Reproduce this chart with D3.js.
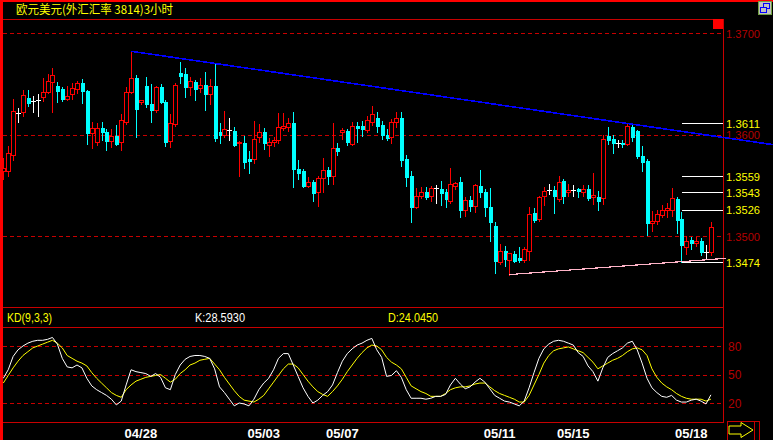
<!DOCTYPE html>
<html><head><meta charset="utf-8">
<script src="https://cdn.jsdelivr.net/npm/d3@7/dist/d3.min.js"></script>
<style>
html,body{margin:0;padding:0;background:#000;overflow:hidden}
svg{display:block}
</style></head><body>
<svg id="c" width="773" height="440"></svg>
<script>
const title = "欧元美元(外汇汇率 3814)3小时";
const opens = [
1.3564,1.3564,1.3580,1.3621,1.3622,1.3636,1.3633,1.3634,1.3637,1.3642,
1.3652,1.3648,1.3645,1.3635,1.3640,1.3645,1.3651,1.3643,1.3601,1.3593,
1.3606,1.3602,1.3594,1.3599,1.3593,1.3612,1.3642,1.3656,1.3632,1.3648,
1.3630,1.3624,1.3647,1.3632,1.3594,1.3610,1.3661,1.3660,1.3647,1.3652,
1.3646,1.3649,1.3640,1.3648,1.3602,1.3600,1.3604,1.3603,1.3592,1.3592,
1.3576,1.3576,1.3598,1.3602,1.3590,1.3593,1.3595,1.3606,1.3607,1.3611,
1.3566,1.3564,1.3549,1.3553,1.3543,1.3557,1.3565,1.3559,1.3587,1.3602,
1.3603,1.3591,1.3608,1.3608,1.3604,1.3612,1.3616,1.3609,1.3600,1.3598,
1.3612,1.3616,1.3576,1.3559,1.3529,1.3539,1.3543,1.3539,1.3547,1.3546,
1.3543,1.3534,1.3549,1.3553,1.3526,1.3535,1.3530,1.3549,1.3543,1.3529,
1.3510,1.3474,1.3485,1.3476,1.3482,1.3478,1.3476,1.3485,1.3523,1.3517,
1.3539,1.3545,1.3545,1.3536,1.3554,1.3543,1.3545,1.3546,1.3543,1.3546,
1.3538,1.3538,1.3537,1.3599,1.3596,1.3592,1.3592,1.3591,1.3607,1.3603,
1.3579,1.3574,1.3513,1.3515,1.3521,1.3526,1.3526,1.3536,1.3517,1.3489,
1.3496,1.3493,1.3495,1.3484,1.3484];
const highs = [
1.3577,1.3589,1.3635,1.3626,1.3644,1.3644,1.3638,1.3640,1.3656,1.3660,
1.3666,1.3652,1.3647,1.3648,1.3651,1.3653,1.3655,1.3644,1.3612,1.3611,
1.3612,1.3605,1.3605,1.3609,1.3620,1.3647,1.3682,1.3659,1.3634,1.3657,
1.3650,1.3648,1.3650,1.3634,1.3620,1.3651,1.3671,1.3666,1.3657,1.3654,
1.3656,1.3662,1.3655,1.3670,1.3611,1.3623,1.3616,1.3607,1.3594,1.3599,
1.3584,1.3613,1.3610,1.3606,1.3597,1.3598,1.3621,1.3621,1.3616,1.3622,
1.3575,1.3566,1.3558,1.3555,1.3559,1.3577,1.3568,1.3611,1.3592,1.3606,
1.3605,1.3612,1.3612,1.3613,1.3618,1.3628,1.3622,1.3613,1.3605,1.3615,
1.3622,1.3622,1.3580,1.3564,1.3547,1.3548,1.3548,1.3549,1.3550,1.3554,
1.3546,1.3567,1.3553,1.3558,1.3538,1.3539,1.3551,1.3565,1.3546,1.3547,
1.3514,1.3492,1.3490,1.3483,1.3485,1.3489,1.3489,1.3529,1.3528,1.3539,
1.3548,1.3551,1.3549,1.3559,1.3556,1.3551,1.3550,1.3547,1.3550,1.3550,
1.3562,1.3544,1.3600,1.3607,1.3600,1.3595,1.3595,1.3611,1.3610,1.3604,
1.3589,1.3576,1.3525,1.3526,1.3531,1.3533,1.3547,1.3538,1.3524,1.3500,
1.3499,1.3499,1.3498,1.3491,1.3514];
const lows = [
1.3556,1.3559,1.3575,1.3612,1.3618,1.3628,1.3622,1.3618,1.3633,1.3641,
1.3622,1.3632,1.3633,1.3634,1.3635,1.3641,1.3631,1.3591,1.3587,1.3590,
1.3595,1.3585,1.3588,1.3590,1.3585,1.3610,1.3641,1.3598,1.3630,1.3627,
1.3612,1.3622,1.3631,1.3589,1.3588,1.3608,1.3651,1.3637,1.3639,1.3634,
1.3642,1.3624,1.3630,1.3594,1.3592,1.3598,1.3595,1.3589,1.3559,1.3567,
1.3562,1.3572,1.3593,1.3586,1.3579,1.3589,1.3592,1.3604,1.3603,1.3548,
1.3556,1.3548,1.3548,1.3534,1.3530,1.3543,1.3551,1.3551,1.3580,1.3596,
1.3590,1.3590,1.3593,1.3599,1.3602,1.3609,1.3602,1.3596,1.3595,1.3592,
1.3607,1.3569,1.3549,1.3514,1.3528,1.3537,1.3536,1.3534,1.3533,1.3531,
1.3529,1.3533,1.3546,1.3519,1.3520,1.3525,1.3524,1.3538,1.3520,1.3495,
1.3464,1.3472,1.3470,1.3462,1.3474,1.3474,1.3474,1.3476,1.3514,1.3515,
1.3531,1.3541,1.3523,1.3534,1.3533,1.3539,1.3539,1.3538,1.3539,1.3535,
1.3532,1.3526,1.3532,1.3591,1.3582,1.3588,1.3588,1.3590,1.3594,1.3577,
1.3564,1.3501,1.3505,1.3512,1.3519,1.3519,1.3520,1.3503,1.3474,1.3482,
1.3487,1.3490,1.3481,1.3478,1.3481];
const closes = [
1.3567,1.3582,1.3623,1.3621,1.3639,1.3631,1.3633,1.3634,1.3642,1.3653,
1.3659,1.3643,1.3635,1.3638,1.3646,1.3651,1.3643,1.3601,1.3606,1.3606,
1.3602,1.3594,1.3599,1.3591,1.3614,1.3642,1.3656,1.3625,1.3634,1.3630,
1.3624,1.3647,1.3632,1.3593,1.3611,1.3649,1.3658,1.3647,1.3653,1.3645,
1.3649,1.3640,1.3648,1.3597,1.3600,1.3605,1.3604,1.3590,1.3593,1.3573,
1.3574,1.3596,1.3602,1.3592,1.3593,1.3595,1.3607,1.3608,1.3611,1.3566,
1.3562,1.3549,1.3553,1.3542,1.3557,1.3565,1.3559,1.3587,1.3584,1.3604,
1.3593,1.3608,1.3606,1.3605,1.3614,1.3620,1.3608,1.3600,1.3597,1.3612,
1.3616,1.3575,1.3558,1.3529,1.3539,1.3543,1.3538,1.3547,1.3547,1.3542,
1.3536,1.3551,1.3552,1.3526,1.3535,1.3530,1.3550,1.3543,1.3529,1.3514,
1.3475,1.3485,1.3477,1.3483,1.3475,1.3476,1.3487,1.3522,1.3516,1.3538,
1.3544,1.3545,1.3539,1.3553,1.3539,1.3545,1.3545,1.3544,1.3546,1.3537,
1.3540,1.3534,1.3596,1.3595,1.3592,1.3592,1.3591,1.3608,1.3598,1.3579,
1.3573,1.3513,1.3515,1.3522,1.3526,1.3528,1.3537,1.3516,1.3491,1.3495,
1.3493,1.3495,1.3484,1.3484,1.3509];
const kValues = [
46,55,69,76,80,83,85,86,86,87,
89,82,67,58,57,60,57,46,38,34,
31,28,24,18,22,39,55,53,52,51,
48,51,47,36,34,50,60,66,69,70,
70,69,67,56,37,31,24,17,20,19,
17,24,34,41,46,55,67,72,72,60,
48,36,27,20,23,28,32,39,52,64,
72,77,81,83,86,88,76,68,48,49,
54,47,34,25,25,25,24,25,27,27,
29,39,46,40,35,37,42,46,42,35,
28,25,22,21,19,17,22,36,52,67,
77,82,85,86,85,83,81,73,69,59,
53,43,57,68,72,75,78,83,85,76,
62,46,36,31,27,26,28,23,21,21,
23,24,22,19,28.593];
const dValues = [
41,49,57,64,70,74,78,80,82,84,
86,83,78,70,67,64,62,59,52,46,
41,36,31,28,26,34,39,43,45,47,
48,49,50,46,42,45,51,55,60,62,
65,66,67,61,55,47,40,33,27,23,
22,21,24,28,35,42,49,56,61,61,
57,50,43,37,32,29,27,32,38,45,
53,60,67,73,78,81,80,76,68,63,
60,56,47,38,35,32,30,27,27,27,
30,34,36,37,37,38,40,41,41,37,
33,30,28,26,24,21,21,28,39,50,
62,70,75,77,78,79,77,75,73,68,
63,56,59,62,65,67,70,74,77,78,
76,70,56,47,41,37,34,30,27,25,
24,24,24,22,24.045];
const dateLabels = ["04/28","05/03","05/07","05/11","05/15","05/18"];
const dateIndex = [28,53,69,101,116,140];
const priceTicks = [1.3700,1.3600,1.3500];
const markLevels = [1.3611,1.3559,1.3543,1.3526,1.3474];
const kdTicks = [80,50,20];
const upperTrend = [[26,1.3682],[156.6,1.3590]];
const lowerTrend = [[103,1.3462],[147,1.3478]];
const kdName = "KD(9,3,3)";

const W=773,H=440;
const svg=d3.select("#c");
svg.append("rect").attr("width",W).attr("height",H).attr("fill","#000");

const x=d3.scaleLinear().domain([0,opens.length-1]).range([3.3,710.9]);
const y=d3.scaleLinear().domain([1.35,1.37]).range([236,33]);
const yk=d3.scaleLinear().domain([0,100]).range([422,327]);

const FR="#c80000", LBL="#b40000";
const SANS="'Liberation Sans', Arial, sans-serif";
const frame=svg.append("g").attr("shape-rendering","crispEdges");
[19,307,327,422].forEach(v=>frame.append("line").attr("x1",3).attr("x2",724).attr("y1",v+0.5).attr("y2",v+0.5).attr("stroke",FR));
frame.append("line").attr("x1",723.5).attr("x2",723.5).attr("y1",19).attr("y2",423).attr("stroke",FR);
priceTicks.forEach(p=>{
  const yy=Math.round(y(p))+0.5;
  frame.append("line").attr("x1",3).attr("x2",723).attr("y1",yy).attr("y2",yy)
    .attr("stroke",FR).attr("stroke-dasharray","4,3");
});
kdTicks.forEach(v=>{
  const yy=Math.round(yk(v))+0.5;
  frame.append("line").attr("x1",3).attr("x2",723).attr("y1",yy).attr("y2",yy)
    .attr("stroke",FR).attr("stroke-dasharray","4,3");
});

// candles
const cg=svg.append("g").attr("shape-rendering","crispEdges");
opens.forEach((o,i)=>{
  const h=highs[i], l=lows[i], c=closes[i];
  const cx=Math.round(x(i));
  const yh=Math.round(y(h)), yl=Math.round(y(l));
  const yo=Math.round(y(o)), yc=Math.round(y(c));
  if (Math.abs(o-c)<1e-7) {
    cg.append("line").attr("x1",cx+0.5).attr("x2",cx+0.5).attr("y1",yh).attr("y2",yl+1).attr("stroke","#fff");
    cg.append("line").attr("x1",cx-2).attr("x2",cx+3).attr("y1",yo+0.5).attr("y2",yo+0.5).attr("stroke","#fff");
  } else if (c>o) {
    const top=yc, bot=yo;
    cg.append("line").attr("x1",cx+0.5).attr("x2",cx+0.5).attr("y1",yh).attr("y2",top).attr("stroke","#ff0000");
    cg.append("line").attr("x1",cx+0.5).attr("x2",cx+0.5).attr("y1",bot+1).attr("y2",yl+1).attr("stroke","#ff0000");
    cg.append("rect").attr("x",cx-1.5).attr("y",top+0.5).attr("width",4).attr("height",Math.max(bot-top,1))
      .attr("fill","#000").attr("stroke","#ff0000");
  } else {
    const top=yo, bot=yc;
    cg.append("line").attr("x1",cx+0.5).attr("x2",cx+0.5).attr("y1",yh).attr("y2",yl+1).attr("stroke","#00ffff");
    cg.append("rect").attr("x",cx-1.5).attr("y",top).attr("width",4).attr("height",Math.max(bot-top+1,2))
      .attr("fill","#00ffff");
  }
});

// mark level lines (white) with yellow labels
markLevels.forEach(p=>{
  const yy=Math.round(y(p))+0.5;
  cg.append("line").attr("x1",682).attr("x2",723).attr("y1",yy).attr("y2",yy).attr("stroke","#fff");
});

// price labels
priceTicks.forEach(p=>{
  svg.append("text").attr("x",726).attr("y",y(p)+4.5).attr("fill",LBL)
    .attr("font-family",SANS).attr("font-size",11).attr("textLength",34).attr("lengthAdjust","spacingAndGlyphs")
    .text(p.toFixed(4));
});
markLevels.forEach(p=>{
  svg.append("text").attr("x",726).attr("y",y(p)+4.5).attr("fill","#ffff00")
    .attr("font-family",SANS).attr("font-size",11).attr("textLength",34).attr("lengthAdjust","spacingAndGlyphs")
    .text(p.toFixed(4));
});

// trend lines
const tl=d3.line().x(d=>x(d[0])).y(d=>y(d[1]));
svg.append("path").attr("d",tl(upperTrend)).attr("fill","none").attr("stroke","#0000ff").attr("stroke-width",1.6)
  .attr("shape-rendering","crispEdges");
svg.append("path").attr("d",tl(lowerTrend)).attr("fill","none").attr("stroke","#ffb4c8").attr("stroke-width",1.2)
  .attr("shape-rendering","crispEdges");

// KD lines
const kl=d3.line().x((d,i)=>x(i)).y(d=>yk(d));
svg.append("path").attr("d",kl(dValues)).attr("fill","none").attr("stroke","#ffff00").attr("stroke-width",1);
svg.append("path").attr("d",kl(kValues)).attr("fill","none").attr("stroke","#ffffff").attr("stroke-width",1);

kdTicks.forEach(v=>{
  svg.append("text").attr("x",728).attr("y",yk(v)+4.5).attr("fill",LBL)
    .attr("font-family",SANS).attr("font-size",12).text(v);
});

// KD header
svg.append("text").attr("x",7).attr("y",322).attr("fill","#ffff00").attr("font-family",SANS).attr("font-size",12)
  .attr("textLength",45).attr("lengthAdjust","spacingAndGlyphs").text(kdName);
svg.append("text").attr("x",195).attr("y",322).attr("fill","#ffffff").attr("font-family",SANS).attr("font-size",12)
  .attr("textLength",50).attr("lengthAdjust","spacingAndGlyphs").text("K:"+kValues[kValues.length-1].toFixed(4));
svg.append("text").attr("x",388).attr("y",322).attr("fill","#ffff00").attr("font-family",SANS).attr("font-size",12)
  .attr("textLength",50).attr("lengthAdjust","spacingAndGlyphs").text("D:"+dValues[dValues.length-1].toFixed(4));

// date axis
dateLabels.forEach((t,j)=>{
  svg.append("text").attr("x",x(dateIndex[j])).attr("y",438).attr("text-anchor","middle")
    .attr("fill","#fff").attr("font-family",SANS).attr("font-weight","bold").attr("font-size",13).text(t);
});

// title
svg.append("text").attr("x",16).attr("y",14).attr("fill","#ffff00")
  .attr("font-family","'Noto Sans CJK SC', sans-serif").attr("font-size",12)
  .attr("textLength",157).attr("lengthAdjust","spacingAndGlyphs").text(title);

// borders
const bd=svg.append("g").attr("shape-rendering","crispEdges");
bd.append("rect").attr("x",0).attr("y",0).attr("width",3).attr("height",H).attr("fill","#ff0000");
bd.append("rect").attr("x",0).attr("y",0).attr("width",W).attr("height",2).attr("fill","#ff0000");
bd.append("rect").attr("x",713).attr("y",19).attr("width",10).attr("height",10).attr("fill","#ff0000");
// top-right icon
bd.append("rect").attr("x",758.5).attr("y",1.5).attr("width",13).attr("height",13).attr("fill","#c0c0c0").attr("stroke","#70a040");
bd.append("rect").attr("x",763.5).attr("y",3.5).attr("width",6).attr("height",5).attr("fill","none").attr("stroke","#0000ff");
bd.append("rect").attr("x",760.5).attr("y",7.5).attr("width",6).attr("height",5).attr("fill","#c0c0c0").attr("stroke","#0000ff");
// bottom-right arrow button
bd.append("rect").attr("x",727.5).attr("y",421.5).attr("width",32).attr("height",19).attr("fill","none").attr("stroke",FR);
bd.append("line").attr("x1",754.5).attr("x2",754.5).attr("y1",421).attr("y2",440).attr("stroke",FR);
svg.append("polygon").attr("points","729,426 741,426 741,422.5 753,430 741,437.5 741,434 729,434")
  .attr("fill","none").attr("stroke","#ffff00").attr("stroke-width",1);
</script>
</body></html>
